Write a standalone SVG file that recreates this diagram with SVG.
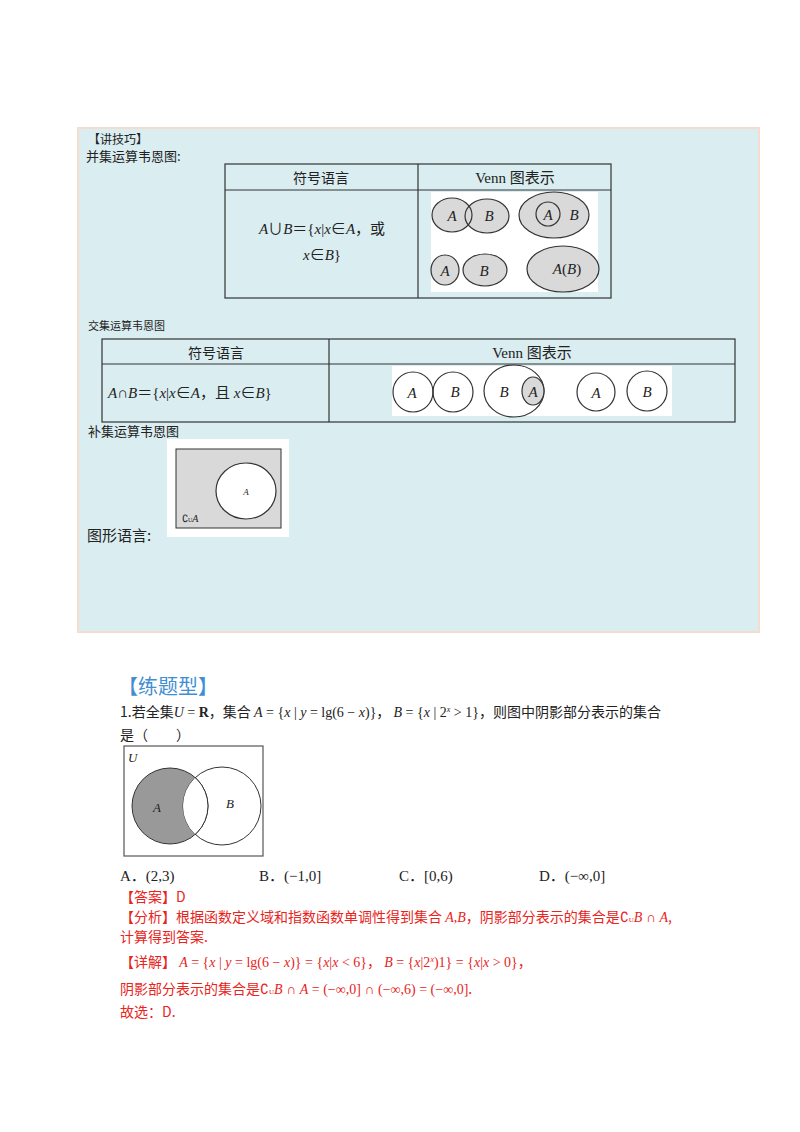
<svg xmlns="http://www.w3.org/2000/svg" width="800" height="1132" viewBox="0 0 800 1132">
<style>
.cn{font-family:"Noto Sans CJK SC","Noto Sans",sans-serif;fill:#222}
.m{font-family:"Liberation Serif","Noto Sans CJK SC",serif;fill:#222}
.i{font-style:italic}
.ln{stroke:#333;stroke-width:1.2;fill:none}
.vc{stroke:#333;stroke-width:1.2;fill:#d9d9d9}
.vw{stroke:#333;stroke-width:1.2;fill:#fff}
.r{fill:#e8241c;font-family:"Noto Sans CJK SC","Liberation Serif",sans-serif}
</style>
<rect width="800" height="1132" fill="#fff"/>
<rect x="78" y="128" width="681" height="504" fill="#daedf1" stroke="#f4dccf" stroke-width="2"/>
<text class="cn" x="88" y="144" font-size="12">【讲技巧】</text>
<text class="cn" x="86" y="161" font-size="13">并集运算韦恩图:</text>
<g id="union-table">
<rect x="225" y="164" width="386" height="134" class="ln"/>
<line x1="225" y1="190" x2="611" y2="190" class="ln"/>
<line x1="418" y1="164" x2="418" y2="298" class="ln"/>
<text class="cn" x="321" y="183" font-size="14" text-anchor="middle">符号语言</text>
<text class="m" x="515" y="183" font-size="15" text-anchor="middle">Venn 图表示</text>
<text class="m" x="322" y="234" font-size="15" text-anchor="middle"><tspan class="i">A</tspan>∪<tspan class="i">B</tspan>＝{<tspan class="i">x</tspan>|<tspan class="i">x</tspan>∈<tspan class="i">A</tspan>，或</text>
<text class="m" x="322" y="260" font-size="15" text-anchor="middle"><tspan class="i">x</tspan>∈<tspan class="i">B</tspan>}</text>
<rect x="431" y="192" width="167" height="100" fill="#fff"/>
<ellipse cx="452" cy="215" rx="20" ry="17" fill="#d9d9d9"/>
<ellipse cx="487" cy="216" rx="22" ry="17" fill="#d9d9d9"/>
<ellipse cx="452" cy="215" rx="20" ry="17" class="ln"/>
<ellipse cx="487" cy="216" rx="22" ry="17" class="ln"/>
<text class="m i" x="452" y="221" font-size="15" text-anchor="middle">A</text>
<text class="m i" x="489" y="221" font-size="15" text-anchor="middle">B</text>
<ellipse cx="554" cy="215" rx="35" ry="23" class="vc"/>
<circle cx="548" cy="214" r="12" class="vc"/>
<text class="m i" x="548" y="220" font-size="15" text-anchor="middle">A</text>
<text class="m i" x="574" y="220" font-size="15" text-anchor="middle">B</text>
<ellipse cx="445" cy="270" rx="14" ry="15" class="vc"/>
<ellipse cx="485" cy="270" rx="22" ry="16" class="vc"/>
<text class="m i" x="445" y="276" font-size="15" text-anchor="middle">A</text>
<text class="m i" x="484" y="276" font-size="15" text-anchor="middle">B</text>
<ellipse cx="563" cy="269" rx="36" ry="23" class="vc"/>
<text class="m" x="567" y="274" font-size="15" text-anchor="middle"><tspan class="i">A</tspan>(<tspan class="i">B</tspan>)</text>
</g>
<text class="cn" x="88" y="330" font-size="11">交集运算韦恩图</text>
<g id="intersect-table">
<rect x="102" y="339" width="633" height="83" class="ln"/>
<line x1="102" y1="364" x2="735" y2="364" class="ln"/>
<line x1="329" y1="339" x2="329" y2="422" class="ln"/>
<text class="cn" x="216" y="358" font-size="14" text-anchor="middle">符号语言</text>
<text class="m" x="532" y="358" font-size="15" text-anchor="middle">Venn 图表示</text>
<text class="m" x="108" y="398" font-size="15"><tspan class="i">A</tspan>∩<tspan class="i">B</tspan>＝{<tspan class="i">x</tspan>|<tspan class="i">x</tspan>∈<tspan class="i">A</tspan>，且 <tspan class="i">x</tspan>∈<tspan class="i">B</tspan>}</text>
<rect x="392" y="366" width="280" height="50" fill="#fff"/>
<clipPath id="ca"><circle cx="413" cy="392" r="20"/></clipPath>
<circle cx="453" cy="392" r="20" fill="#d9d9d9" clip-path="url(#ca)"/>
<circle cx="413" cy="392" r="20" class="ln"/>
<circle cx="453" cy="392" r="20" class="ln"/>
<text class="m i" x="412" y="398" font-size="15" text-anchor="middle">A</text>
<text class="m i" x="455" y="397" font-size="15" text-anchor="middle">B</text>
<ellipse cx="514" cy="391" rx="30" ry="26" class="ln"/>
<ellipse cx="533" cy="391" rx="11" ry="14" class="vc"/>
<text class="m i" x="504" y="397" font-size="15" text-anchor="middle">B</text>
<text class="m i" x="533" y="397" font-size="15" text-anchor="middle">A</text>
<circle cx="596" cy="392" r="19" class="ln"/>
<circle cx="647" cy="391" r="20" class="ln"/>
<text class="m i" x="596" y="398" font-size="15" text-anchor="middle">A</text>
<text class="m i" x="647" y="397" font-size="15" text-anchor="middle">B</text>
</g>
<text class="cn" x="88" y="436" font-size="13">补集运算韦恩图</text>
<g id="complement">
<rect x="167" y="439" width="122" height="98" fill="#fff"/>
<rect x="176" y="449" width="105" height="79" fill="#d9d9d9" stroke="#333" stroke-width="1"/>
<ellipse cx="246" cy="491" rx="30" ry="28" class="vw"/>
<text class="m i" x="246" y="495" font-size="9" text-anchor="middle">A</text>
<text class="m" x="182" y="522" font-size="10">∁<tspan font-size="6">U</tspan><tspan class="i">A</tspan></text>
</g>
<text class="cn" x="87" y="541" font-size="15">图形语言:</text>
<text x="118" y="694" font-size="20" fill="#3f8fd2" font-family="Noto Sans CJK SC,sans-serif">【练题型】</text>
<text class="cn" x="120" y="717" font-size="14">1.若全集<tspan class="m i">U</tspan><tspan class="m"> = </tspan><tspan class="m" font-weight="bold">R</tspan>，集合 <tspan class="m"><tspan class="i">A</tspan> = {<tspan class="i">x</tspan> | <tspan class="i">y</tspan> = lg(6 − <tspan class="i">x</tspan>)}</tspan>，  <tspan class="m"><tspan class="i">B</tspan> = {<tspan class="i">x</tspan> | 2<tspan class="i" font-size="8" dy="-5">x</tspan><tspan dy="5"> &gt; 1}</tspan></tspan>，则图中阴影部分表示的集合</text>
<text class="cn" x="120" y="740" font-size="14">是（　　）</text>
<g id="q-venn">
<rect x="124" y="746" width="139" height="110" fill="#fff" stroke="#555" stroke-width="1.2"/>
<text class="m i" x="128" y="762" font-size="13" fill="#555">U</text>
<circle cx="170" cy="806" r="38" fill="#999" stroke="#333" stroke-width="1"/>
<circle cx="222" cy="806" r="39" fill="none" stroke="#333" stroke-width="1"/>
<clipPath id="cb"><circle cx="222" cy="806" r="39"/></clipPath>
<circle cx="170" cy="806" r="38" fill="#fff" stroke="#333" stroke-width="1" clip-path="url(#cb)"/>
<text class="m i" x="153" y="812" font-size="13" fill="#333">A</text>
<text class="m i" x="226" y="808" font-size="13" fill="#333">B</text>
</g>
<g class="m" font-size="15">
<text x="120" y="881">A．(2,3)</text>
<text x="259" y="881">B．(−1,0]</text>
<text x="399" y="881">C．[0,6)</text>
<text x="539" y="881">D．(−∞,0]</text>
</g>
<text class="r" x="120" y="902" font-size="14">【答案】D</text>
<text class="r" x="120" y="922" font-size="14">【分析】根据函数定义域和指数函数单调性得到集合 <tspan class="i" font-family="Liberation Serif">A</tspan><tspan font-family="Liberation Serif">,</tspan><tspan class="i" font-family="Liberation Serif">B</tspan>，阴影部分表示的集合是<tspan font-family="Liberation Serif">∁<tspan font-size="7">U</tspan><tspan class="i">B</tspan> ∩ <tspan class="i">A</tspan></tspan>,</text>
<text class="r" x="120" y="942" font-size="14">计算得到答案.</text>
<text class="r" x="120" y="967" font-size="14">【详解】 <tspan font-family="Liberation Serif"><tspan class="i">A</tspan> = {<tspan class="i">x</tspan> | <tspan class="i">y</tspan> = lg(6 − <tspan class="i">x</tspan>)} = {<tspan class="i">x</tspan>|<tspan class="i">x</tspan> &lt; 6}</tspan>， <tspan font-family="Liberation Serif"><tspan class="i">B</tspan> = {<tspan class="i">x</tspan>|2<tspan class="i" font-size="8" dy="-5">x</tspan><tspan dy="5">)1} = {</tspan><tspan class="i">x</tspan>|<tspan class="i">x</tspan> &gt; 0}</tspan>，</text>
<text class="r" x="120" y="994" font-size="14">阴影部分表示的集合是<tspan font-family="Liberation Serif">∁<tspan font-size="7">U</tspan><tspan class="i">B</tspan> ∩ <tspan class="i">A</tspan> = (−∞,0] ∩ (−∞,6) = (−∞,0]</tspan>.</text>
<text class="r" x="120" y="1017" font-size="14">故选：D.</text>
</svg>
